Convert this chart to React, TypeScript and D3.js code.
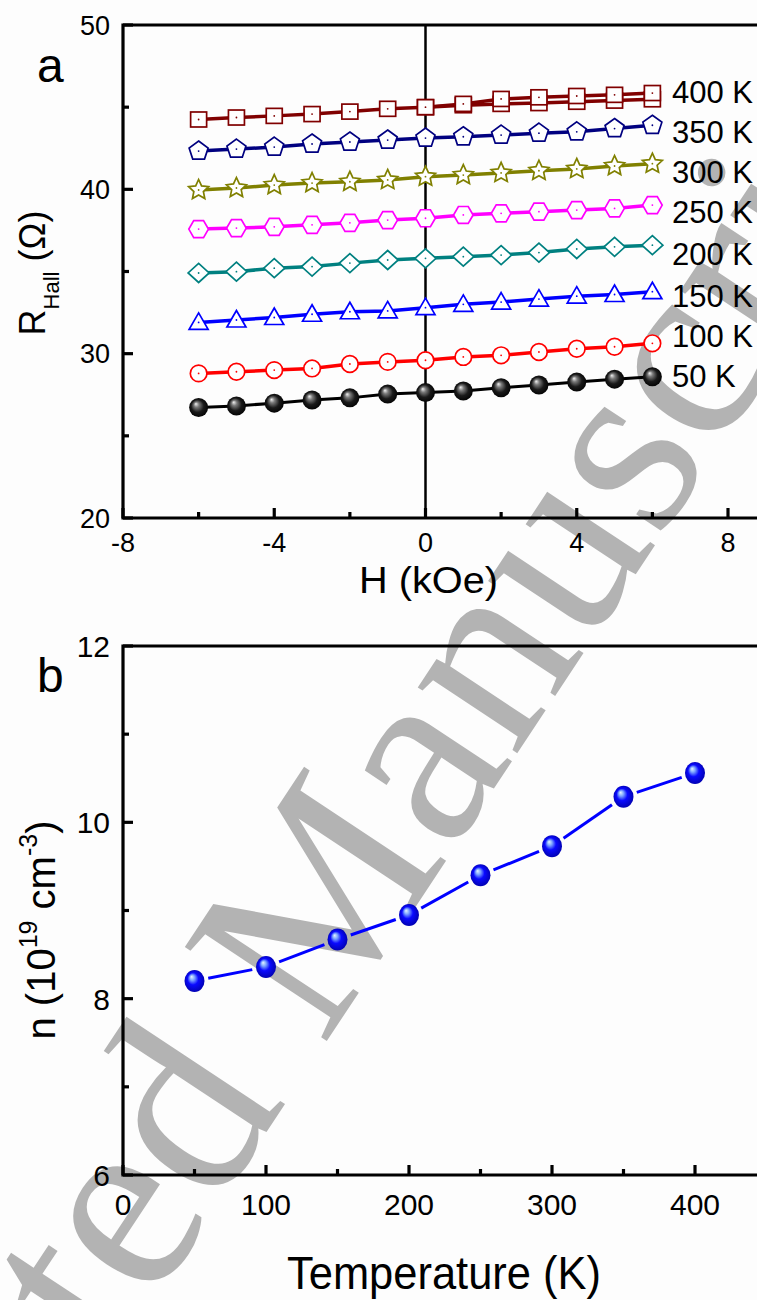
import React from 'react';
import * as d3 from 'd3';

// ---------- Panel a data ----------
const H_FIELD = [-6, -5, -4, -3, -2, -1, 0, 1, 2, 3, 4, 5, 6];
const H_FIELD_UP = [0, 1, 2, 3, 4, 5, 6];
const R_400K = [44.25, 44.37, 44.47, 44.58, 44.73, 44.9, 45.0, 45.12, 45.2, 45.25, 45.33, 45.4, 45.48];
const R_400K_UP = [45.0, 45.2, 45.5, 45.6, 45.68, 45.75, 45.86];
const R_350K = [42.33, 42.45, 42.57, 42.76, 42.88, 43.0, 43.12, 43.2, 43.3, 43.42, 43.5, 43.7, 43.9];
const R_300K = [39.96, 40.08, 40.26, 40.38, 40.46, 40.57, 40.77, 40.87, 41.0, 41.13, 41.24, 41.42, 41.56];
const R_250K = [37.58, 37.64, 37.72, 37.84, 37.96, 38.13, 38.24, 38.44, 38.54, 38.64, 38.74, 38.84, 39.04];
const R_200K = [34.91, 34.99, 35.2, 35.3, 35.51, 35.7, 35.8, 35.9, 36.0, 36.15, 36.37, 36.5, 36.6];
const R_150K = [31.9, 32.05, 32.2, 32.4, 32.55, 32.6, 32.8, 33.0, 33.14, 33.32, 33.5, 33.6, 33.77];
const R_100K = [28.8, 28.9, 29.0, 29.1, 29.37, 29.5, 29.6, 29.8, 29.9, 30.1, 30.3, 30.42, 30.63];
const R_50K = [26.72, 26.82, 26.99, 27.18, 27.31, 27.54, 27.63, 27.73, 27.93, 28.09, 28.27, 28.45, 28.59];
const SERIES_LABELS = ['400 K', '350 K', '300 K', '250 K', '200 K', '150 K', '100 K', '50 K'];
const LABEL_R = [45.92, 43.49, 41.05, 38.62, 36.06, 33.5, 31.07, 28.64];
const A_X_TICKS = [-8, -4, 0, 4, 8];
const A_X_MINOR = [-6, -2, 2, 6];
const A_Y_TICKS = [20, 30, 40, 50];
const A_Y_MINOR = [25, 35, 45];

// ---------- Panel b data ----------
const TEMPERATURE = [50, 100, 150, 200, 250, 300, 350, 400];
const CARRIER_N = [8.2, 8.36, 8.67, 8.95, 9.4, 9.73, 10.29, 10.56];
const B_X_TICKS = [0, 100, 200, 300, 400, 500];
const B_X_LABELS = [0, 100, 200, 300, 400];
const B_X_MINOR = [50, 150, 250, 350, 450];
const B_Y_TICKS = [6, 8, 10, 12];
const B_Y_MINOR = [7, 9, 11];

const FONT = "'Liberation Sans', Arial, Helvetica, sans-serif";

type Shape = 'sphere' | 'circle' | 'triangle' | 'diamond' | 'hexagon' | 'star' | 'pentagon' | 'square';

function polygon(n: number, r: number, rot: number) {
  const pts: string[] = [];
  for (let i = 0; i < n; i++) {
    const a = rot + (i * 2 * Math.PI) / n;
    pts.push(`${(r * Math.cos(a)).toFixed(2)},${(r * Math.sin(a)).toFixed(2)}`);
  }
  return 'M' + pts.join('L') + 'Z';
}
function starPath(ro: number, ri: number) {
  const pts: string[] = [];
  for (let i = 0; i < 10; i++) {
    const r = i % 2 === 0 ? ro : ri;
    const a = -Math.PI / 2 + (i * Math.PI) / 5;
    pts.push(`${(r * Math.cos(a)).toFixed(2)},${(r * Math.sin(a)).toFixed(2)}`);
  }
  return 'M' + pts.join('L') + 'Z';
}

function Marker({ shape, x, y, color }: { shape: Shape; x: number; y: number; color: string }) {
  const sw = 1.7;
  let el: React.ReactNode = null;
  switch (shape) {
    case 'sphere':
      return <circle cx={x} cy={y} r={9.5} fill="url(#gBlack)" />;
    case 'circle':
      el = <circle r={8.3} fill="#fff" stroke={color} strokeWidth={sw} />;
      break;
    case 'square':
      el = <rect x={-8} y={-7.5} width={16} height={15} fill="#fff" stroke={color} strokeWidth={sw} />;
      break;
    case 'triangle':
      el = <path d="M0,-9.5L9.5,7L-9.5,7Z" fill="#fff" stroke={color} strokeWidth={sw} />;
      break;
    case 'diamond':
      el = <path d="M0,-9.5L10.5,0L0,9.5L-10.5,0Z" fill="#fff" stroke={color} strokeWidth={sw} />;
      break;
    case 'hexagon':
      el = <path d={polygon(6, 9.8, 0)} fill="#fff" stroke={color} strokeWidth={sw} />;
      break;
    case 'pentagon':
      el = <path d={polygon(5, 10, -Math.PI / 2)} fill="#fff" stroke={color} strokeWidth={sw} />;
      break;
    case 'star':
      el = <path d={starPath(10.5, 5)} fill="#fff" stroke={color} strokeWidth={sw} />;
      break;
  }
  return (
    <g transform={`translate(${x},${y})`}>
      {el}
      <circle r={0.9} fill={color} />
    </g>
  );
}

export default function App() {
  // Panel a scales
  const ax = d3.scaleLinear().domain([-8, 8]).range([123, 728]);
  const ay = d3.scaleLinear().domain([20, 50]).range([518, 25]);
  // Panel b scales
  const bx = d3.scaleLinear().domain([0, 500]).range([123, 838]);
  const by = d3.scaleLinear().domain([6, 12]).range([1175, 646]);

  const seriesA = [
    { xs: H_FIELD, ys: R_400K, color: '#800000', shape: 'square' as Shape },
    { xs: H_FIELD_UP, ys: R_400K_UP, color: '#800000', shape: 'square' as Shape },
    { xs: H_FIELD, ys: R_350K, color: '#000080', shape: 'pentagon' as Shape },
    { xs: H_FIELD, ys: R_300K, color: '#808000', shape: 'star' as Shape },
    { xs: H_FIELD, ys: R_250K, color: '#ff00ff', shape: 'hexagon' as Shape },
    { xs: H_FIELD, ys: R_200K, color: '#008080', shape: 'diamond' as Shape },
    { xs: H_FIELD, ys: R_150K, color: '#0000ff', shape: 'triangle' as Shape },
    { xs: H_FIELD, ys: R_100K, color: '#ff0000', shape: 'circle' as Shape },
    { xs: H_FIELD, ys: R_50K, color: '#000000', shape: 'sphere' as Shape },
  ];

  const lineA = d3
    .line<[number, number]>()
    .x((d) => ax(d[0]))
    .y((d) => ay(d[1]));

  // Panel b line segments with gaps around the markers
  const bPts = TEMPERATURE.map((t, i) => [bx(t), by(CARRIER_N[i])] as [number, number]);
  const gap = 14;
  const bSegs: string[] = [];
  for (let i = 0; i < bPts.length - 1; i++) {
    const [x0, y0] = bPts[i];
    const [x1, y1] = bPts[i + 1];
    const L = Math.hypot(x1 - x0, y1 - y0);
    const ux = (x1 - x0) / L;
    const uy = (y1 - y0) / L;
    bSegs.push(`M${x0 + ux * gap},${y0 + uy * gap}L${x1 - ux * gap},${y1 - uy * gap}`);
  }

  const axisW = 3.2;
  const major = 10;
  const minor = 6;

  return (
    <div style={{ position: 'absolute', left: 0, top: 0 }}>
      <svg width={757} height={1300} viewBox="0 0 757 1300" style={{ display: 'block', background: '#fdfdfd' }}>
        <defs>
          <radialGradient id="gBlack" cx="0.5" cy="0.5" r="0.55" fx="0.35" fy="0.3">
            <stop offset="0" stopColor="#f2f2f2" />
            <stop offset="0.25" stopColor="#7a7a7a" />
            <stop offset="0.6" stopColor="#1a1a1a" />
            <stop offset="1" stopColor="#000" />
          </radialGradient>
          <radialGradient id="gBlue" cx="0.5" cy="0.5" r="0.55" fx="0.35" fy="0.3">
            <stop offset="0" stopColor="#e6f4ff" />
            <stop offset="0.22" stopColor="#7fa8ff" />
            <stop offset="0.5" stopColor="#0a0aff" />
            <stop offset="1" stopColor="#0000a8" />
          </radialGradient>
        </defs>

        {/* Watermark */}
        <text
          x={-255}
          y={1920}
          transform="rotate(-56.5,-255,1920)"
          fontFamily="'Liberation Serif', 'Times New Roman', serif"
          fontSize={260}
          fill="#b3b3b3"
        >
          Accepted Manuscript
        </text>

        {/* ================= Panel a ================= */}
        <g fontFamily={FONT}>
          {seriesA.map((s, i) => (
            <path
              key={'la' + i}
              d={lineA(s.xs.map((x, j) => [x, s.ys[j]] as [number, number])) || ''}
              fill="none"
              stroke={s.color}
              strokeWidth={s.shape === 'sphere' ? 3 : 3.5}
            />
          ))}
          <line x1={ax(0)} x2={ax(0)} y1={ay(50)} y2={ay(20)} stroke="#000" strokeWidth={2.5} />
          {seriesA.map((s, i) => (
            <g key={'ma' + i}>
              {s.xs.map((x, j) => (
                <Marker key={j} shape={s.shape} x={ax(x)} y={ay(s.ys[j])} color={s.color} />
              ))}
            </g>
          ))}
          {SERIES_LABELS.map((l, i) => (
            <text key={'sl' + i} x={672} y={ay(LABEL_R[i]) + 11} fontSize={31} fill="#000">
              {l}
            </text>
          ))}
          <path
            d={`M${ax(9.5)},${ay(50)}H${ax(-8)}V${ay(20)}H${ax(9.5)}`}
            fill="none"
            stroke="#000"
            strokeWidth={axisW}
          />
          {A_X_TICKS.map((t) => (
            <line key={'axt' + t} x1={ax(t)} x2={ax(t)} y1={ay(20)} y2={ay(20) - major} stroke="#000" strokeWidth={axisW} />
          ))}
          {A_X_MINOR.map((t) => (
            <line key={'axm' + t} x1={ax(t)} x2={ax(t)} y1={ay(20)} y2={ay(20) - minor} stroke="#000" strokeWidth={axisW} />
          ))}
          {A_Y_TICKS.map((t) => (
            <line key={'ayt' + t} x1={ax(-8)} x2={ax(-8) + major} y1={ay(t)} y2={ay(t)} stroke="#000" strokeWidth={axisW} />
          ))}
          {A_Y_MINOR.map((t) => (
            <line key={'aym' + t} x1={ax(-8)} x2={ax(-8) + minor} y1={ay(t)} y2={ay(t)} stroke="#000" strokeWidth={axisW} />
          ))}
          {A_X_TICKS.map((t) => (
            <text key={'axl' + t} x={ax(t)} y={552} fontSize={27} textAnchor="middle">
              {t}
            </text>
          ))}
          {A_Y_TICKS.map((t) => (
            <text key={'ayl' + t} x={110} y={ay(t) + 9.5} fontSize={27} textAnchor="end">
              {t}
            </text>
          ))}
          <text x={359} y={593} fontSize={36} textLength={139} lengthAdjust="spacingAndGlyphs">
            H (kOe)
          </text>
          <text transform="translate(45,273) rotate(-90)" textAnchor="middle" fontSize={36}>
            R
            <tspan fontSize={22} dy={14}>
              Hall
            </tspan>
            <tspan dy={-14}> (Ω)</tspan>
          </text>
          <text x={37} y={82} fontSize={48}>
            a
          </text>
        </g>

        {/* ================= Panel b ================= */}
        <g fontFamily={FONT}>
          {bSegs.map((d, i) => (
            <path key={'bs' + i} d={d} stroke="#0000ff" strokeWidth={3} fill="none" />
          ))}
          {bPts.map(([x, y], i) => (
            <ellipse key={'bp' + i} cx={x} cy={y} rx={10} ry={11} fill="url(#gBlue)" />
          ))}
          <path
            d={`M${bx(470)},${by(12)}H${bx(0)}V${by(6)}H${bx(470)}`}
            fill="none"
            stroke="#000"
            strokeWidth={axisW}
          />
          {B_X_TICKS.map((t) => (
            <line key={'bxt' + t} x1={bx(t)} x2={bx(t)} y1={by(6)} y2={by(6) - major} stroke="#000" strokeWidth={axisW} />
          ))}
          {B_X_MINOR.map((t) => (
            <line key={'bxm' + t} x1={bx(t)} x2={bx(t)} y1={by(6)} y2={by(6) - minor} stroke="#000" strokeWidth={axisW} />
          ))}
          {B_Y_TICKS.map((t) => (
            <line key={'byt' + t} x1={bx(0)} x2={bx(0) + major} y1={by(t)} y2={by(t)} stroke="#000" strokeWidth={axisW} />
          ))}
          {B_Y_MINOR.map((t) => (
            <line key={'bym' + t} x1={bx(0)} x2={bx(0) + minor} y1={by(t)} y2={by(t)} stroke="#000" strokeWidth={axisW} />
          ))}
          {B_X_LABELS.map((t) => (
            <text key={'bxl' + t} x={bx(t)} y={1215} fontSize={30} textAnchor="middle">
              {t}
            </text>
          ))}
          {B_Y_TICKS.map((t) => (
            <text key={'byl' + t} x={110} y={by(t) + 11} fontSize={30} textAnchor="end">
              {t}
            </text>
          ))}
          <text x={444} y={1289} fontSize={46} textAnchor="middle" textLength={314} lengthAdjust="spacingAndGlyphs">
            Temperature (K)
          </text>
          <text transform="translate(55,930) rotate(-90)" textAnchor="middle" fontSize={40}>
            n (10
            <tspan fontSize={25} dy={-18}>
              19
            </tspan>
            <tspan dy={18}> cm</tspan>
            <tspan fontSize={25} dy={-18}>
              -3
            </tspan>
            <tspan dy={18}>)</tspan>
          </text>
          <text x={37} y={692} fontSize={48}>
            b
          </text>
        </g>
      </svg>
    </div>
  );
}
